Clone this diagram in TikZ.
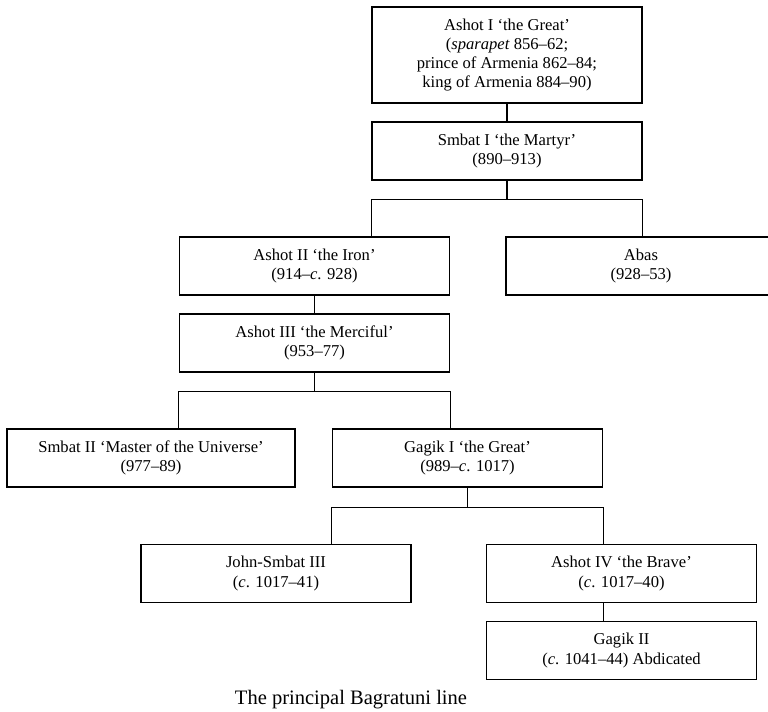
\documentclass[tikz,border=0pt]{standalone}
\usepackage{fontspec}
\setmainfont{Liberation Serif}
\usepackage{tikz}

\tikzset{
  king/.style={draw,line width=0.9pt,align=center,inner sep=0pt,
    minimum width=6.75cm,minimum height=1.45cm,
    font=\fontsize{11.8}{13.6}\selectfont},
  line/.style={line width=0.9pt}
}

\begin{document}
\begin{tikzpicture}
            [x=0.025cm,y=-0.025cm]
            \useasboundingbox (0,0) rectangle (768,711);
            \node[king,minimum height=2.4cm] (aI) at (507, 55) {Ashot I `the Great'\\(\textit{sparapet} 856--62;\\prince of Armenia 862--84;\\ king of Armenia 884--90)};
            \node[king] (sI) at (507, 151) {Smbat I `the Martyr'\\(890--913)};
            \node[king] (aII) at (314.5, 266) {Ashot II `the Iron'\\(914--\textit{c}. 928)};
            \node[king] (abas) at (641, 266) {Abas\\(928--53)};
            \node[king] (aIII) at (314.5, 343) {Ashot III `the Merciful'\\(953--77)};
            \node[king,minimum width=7.2cm] (sII) at (151, 458) {Smbat II `Master of the Universe'\\(977--89)};
            \node[king] (gI) at (467.5, 458) {Gagik I `the Great'\\(989--\textit{c}. 1017)};
            \node[king] (jsIII) at (276, 573.5) {John-Smbat III\\(\textit{c}. 1017--41)};
            \node[king] (aIV) at (621.5, 573.5) {Ashot IV `the Brave'\\(\textit{c}. 1017--40)};
            \node[king] (gII) at (621.5, 650.5) {Gagik II\\(\textit{c}. 1041--44) Abdicated};
            \node[anchor=base,font=\fontsize{14.6}{16}\selectfont] (cap) at (351, 704) {The principal Bagratuni line};

            \draw[line] (aI) -- (sI);
            \draw[line] (sI.south) -- ++(0,19) coordinate (forkI);
            \draw[line] (sI.west |- aII.north) |- (forkI) -| (sI.east |- abas.north);
            \draw[line] (aII) -- (aIII);
            \draw[line] (aIII.south) -- ++(0,19) coordinate (forkIII);
            \draw[line] (aIII.west |- sII.north) |- (forkIII) -| (aIII.east |- gI.north);
            \draw[line] (gI.south) -- ++(0,20) coordinate (forkG);
            \draw[line] (gI.west |- jsIII.north) |- (forkG) -| (gI.east |- aIV.north);
            \draw[line] (gI.east |- aIV.south) -- (gI.east |- gII.north);

        \end{tikzpicture}
\end{document}
